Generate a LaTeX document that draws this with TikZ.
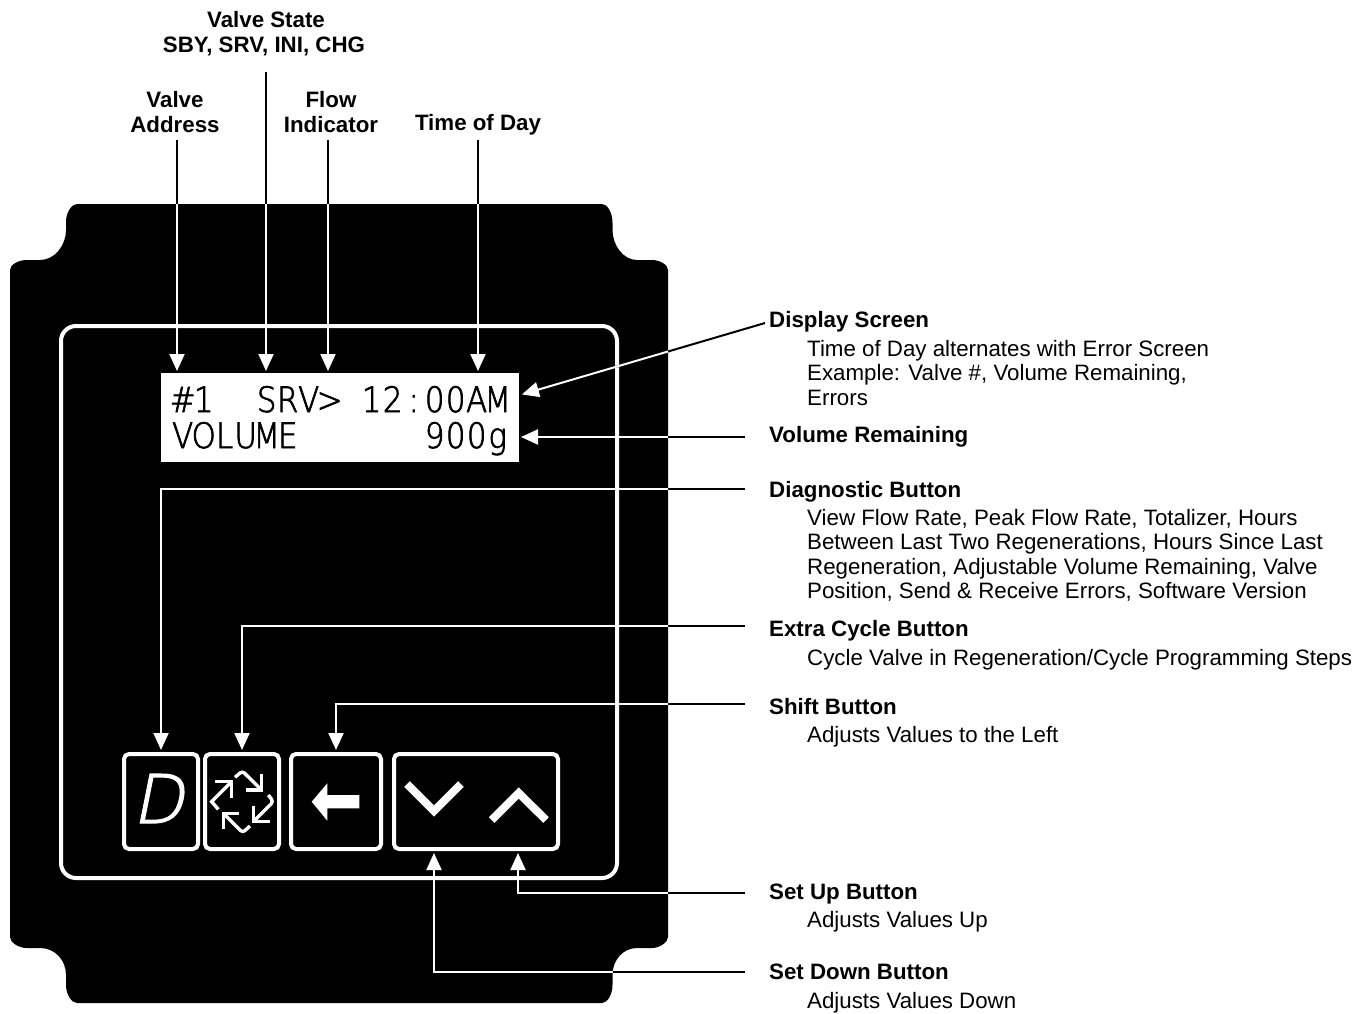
\documentclass[tikz,border=0pt]{standalone}
\usepackage{fontspec}
\setmainfont{Liberation Sans}
\newfontfamily\lcdfont[FakeBold=2,FakeStretch=0.88]{DejaVu Sans ExtraLight}
\newfontfamily\dfont[FakeSlant=0.2,FakeBold=2]{DejaVu Sans ExtraLight}
\usetikzlibrary{arrows.meta}
\newcommand\lc[1]{\makebox[21pt][c]{#1}}
\newcommand\blk[1]{\fontsize{22.3}{24.6}\selectfont\begin{tabular}[t]{@{}l@{}}#1\end{tabular}}
\newcommand\bodyshape{(10,270) .. controls (10,265) and (18,260) .. (27,260) -- (40,260)
  .. controls (55,260) and (66,245) .. (66,230) -- (66,222)
  .. controls (66,212) and (72,204) .. (77,204) -- (602,204)
  .. controls (607,204) and (612.5,212) .. (612.5,223) -- (612.5,230)
  .. controls (612.5,245) and (623,260) .. (637,260) -- (652,260)
  .. controls (660,260) and (668,265) .. (668,270) -- (668,937)
  .. controls (668,942) and (660,948) .. (652,948) -- (637,948)
  .. controls (623,948) and (612.5,960) .. (612.5,975) -- (612.5,985)
  .. controls (612.5,995) and (607,1003) .. (602,1003) -- (77,1003)
  .. controls (72,1003) and (66,995) .. (66,985) -- (66,975)
  .. controls (66,960) and (55,948) .. (40,948) -- (27,948)
  .. controls (18,948) and (10,942) .. (10,937) -- cycle}
\newcommand\conns[1]{%
  \begin{scope}[conn/.style={draw=#1,line width=2pt,-{Triangle[length=17pt,width=15pt,fill=#1]},shorten >=2pt}]
    \draw[conn] (sAddr) -- (sAddr |- lcd.north);
    \draw[conn] (sState) -- (sState |- lcd.north);
    \draw[conn] (sFlow) -- (sFlow |- lcd.north);
    \draw[conn] (sTime) -- (sTime |- lcd.north);
    \draw[conn] (eDisp) -- (tDisp);
    \draw[conn] (eVol) -- (eVol -| lcd.east);
    \draw[conn] (eDiag) -- (eDiag -| btnD.north) -- (btnD.north);
    \draw[conn] (eExtra) -- (eExtra -| btnC.north) -- (btnC.north);
    \draw[conn] (eShift) -- (eShift -| btnS.north) -- (btnS.north);
    \draw[conn] (eUp) -- (eUp -| tUp) -- (tUp);
    \draw[conn] (eDown) -- (eDown -| tDown) -- (tDown);
  \end{scope}}
\tikzset{
  lab/.style={font=\bfseries\fontsize{22.3}{24.6}\selectfont,align=center,inner sep=0pt,anchor=base},
  head/.style={font=\bfseries\fontsize{22.3}{24.6}\selectfont,inner sep=0pt,anchor=base west},
  desc/.style={inner sep=0pt,anchor=base west},
  btn/.style={draw=white,line width=4pt,rounded corners=5pt,fill=black,inner sep=0pt},
  lcdtxt/.style={text=black,inner sep=0pt,anchor=base west,font=\lcdfont\fontsize{35}{35}\selectfont},
  icon/.style={draw=white,line width=3.4pt,line join=miter},
  chev/.style={draw=white,line width=8pt,line join=miter}
}
\begin{document}
\begin{tikzpicture}[x=1pt,y=-1pt]
\useasboundingbox (0,0) rectangle (1368,1013);
\fill[white] (0,0) rectangle (1368,1013);
\fill[black] \bodyshape;
\draw[white,line width=4pt,rounded corners=15pt] (61,326) rectangle (617,878);
\node[fill=white,inner sep=0pt,outer sep=0pt,minimum width=358pt,minimum height=89pt] (lcd) at (340,417.5) {};
\node[lcdtxt] (l1) at (172,412) {\lc{\#}\lc{1}\lc{}\lc{}\lc{S}\lc{R}\lc{V}\lc{>}\lc{}\lc{1}\lc{2}\lc{:}\lc{0}\lc{0}\lc{A}\lc{M}};
\node[lcdtxt] (l2) at (172,448) {\lc{V}\lc{O}\lc{L}\lc{U}\lc{M}\lc{E}\lc{}\lc{}\lc{}\lc{}\lc{}\lc{}\lc{9}\lc{0}\lc{0}\lc{g}};
% buttons
\node[btn,minimum width=74pt,minimum height=95pt] (btnD) at (161,801.5) {};
\node[btn,minimum width=74pt,minimum height=95pt] (btnC) at (242,801.5) {};
\node[btn,minimum width=90pt,minimum height=95pt] (btnS) at (336,801.5) {};
\node[btn,minimum width=164pt,minimum height=95pt] (btnV) at (476,801.5) {};
\node[text=white,inner sep=0pt,anchor=base,font=\dfont\fontsize{67}{67}\selectfont] (dlet) at (158,823) {D};
\begin{scope}[shift={(110,740)},x=0.3333pt,y=-0.3333pt]
  \draw[icon] (325,208) -- (305,185) [rounded corners=3pt] -- (365,125);
  \draw[icon] (315,125) -- (365,125) -- (365,175);
  \draw[icon,rounded corners=3pt] (375,112) -- (397,93) -- (455,150);
  \draw[icon] (455,103) -- (455,150) -- (408,150);
  \draw[icon,rounded corners=3pt] (475,165) -- (490,185) -- (430,245);
  \draw[icon] (430,197) -- (430,245) -- (480,245);
  \draw[icon,rounded corners=3pt] (420,258) -- (398,278) -- (340,220);
  \draw[icon] (340,268) -- (340,220) -- (388,220);
\end{scope}
\fill[white] (311.7,801.7) -- (327.3,783.3) -- (327.3,795) -- (359.3,795) -- (359.3,808.3) -- (327.3,808.3) -- (327.3,820.7) -- cycle;
\draw[chev] (407,784) -- (434,811) -- (461,784);
\draw[chev] (491.7,820) -- (518.7,793) -- (546,820);
% labels
\node[lab] (state) at (264,52) {\hspace{4pt}Valve State\\SBY, SRV, INI, CHG};
\node[lab] (addr) at (175,132) {Valve\\Address};
\node[lab] (flow) at (331,132) {Flow\\Indicator};
\node[lab] (time) at (478,130) {Time of Day};
\node[head] (hDisp) at (769,327) {Display Screen};
\node[desc] (dDisp) at (807,356) {\blk{Time of Day alternates with Error Screen\\Example: Valve \#, Volume Remaining,\\Errors}};
\node[head] (hVol) at (769,442) {Volume Remaining};
\node[head] (hDiag) at (769,497) {Diagnostic Button};
\node[desc] (dDiag) at (807,525) {\blk{View Flow Rate, Peak Flow Rate, Totalizer, Hours\\Between Last Two Regenerations, Hours Since Last\\Regeneration, Adjustable Volume Remaining, Valve\\Position, Send \& Receive Errors, Software Version}};
\node[head] (hExtra) at (769,636) {Extra Cycle Button};
\node[desc] (dExtra) at (807,665) {\blk{Cycle Valve in Regeneration/Cycle Programming Steps}};
\node[head] (hShift) at (769,714) {Shift Button};
\node[desc] (dShift) at (807,742) {\blk{Adjusts Values to the Left}};
\node[head] (hUp) at (769,899) {Set Up Button};
\node[desc] (dUp) at (807,927) {\blk{Adjusts Values Up}};
\node[head] (hDown) at (769,979) {Set Down Button};
\node[desc] (dDown) at (807,1008) {\blk{Adjusts Values Down}};
% connector ends
\coordinate (sAddr) at (177,140);
\coordinate (sState) at (266,72);
\coordinate (sFlow) at (328,140);
\coordinate (sTime) at (478,140);
\coordinate (eDisp) at (765,323);
\coordinate (tDisp) at (520,395);
\coordinate (eVol) at (745,437);
\coordinate (eDiag) at (745,489);
\coordinate (eExtra) at (745,626);
\coordinate (eShift) at (745,704);
\coordinate (eUp) at (745,893);
\coordinate (eDown) at (745,972);
\coordinate (tUp) at (518,851);
\coordinate (tDown) at (434,851);
\conns{black}
\begin{scope}
  \clip \bodyshape;
  \conns{white}
\end{scope}
\end{tikzpicture}
\end{document}
